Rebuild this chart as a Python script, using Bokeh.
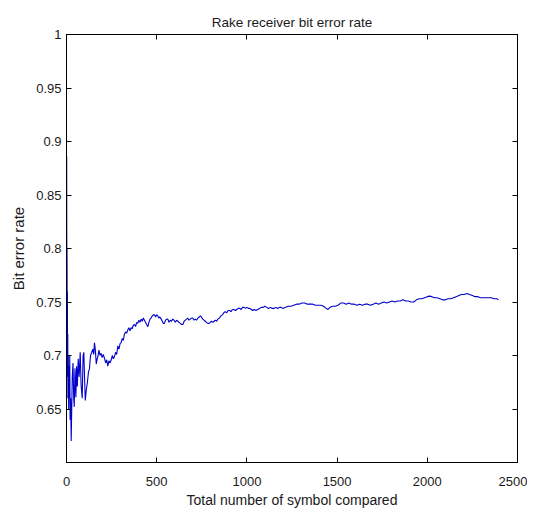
from bokeh.plotting import figure
from bokeh.models import Range1d, LinearAxis, FixedTicker
from bokeh.embed import file_html
from bokeh.resources import INLINE

# ---- data ----
symbols = [1, 2, 3, 4, 5, 6, 7, 8, 10, 12, 14, 16, 18, 20, 23, 26, 29, 32, 36, 40,
           43, 47, 52, 56, 60, 65, 70, 76, 81, 87, 92, 96, 100, 104, 110, 116, 122, 127, 133, 140,
           146, 151, 155, 160, 165, 170, 174, 180, 186, 192, 198, 204, 211, 217, 223, 229, 235, 241, 248, 254,
           260, 266, 272, 278, 285, 291, 297, 303, 309, 315, 321, 328, 334, 340, 346, 352, 358, 364, 370, 377,
           383, 389, 395, 401, 407, 414, 420, 426, 432, 438, 444, 451, 457, 463, 469, 475, 481, 488, 494, 500,
           506, 512, 518, 525, 531, 537, 543, 549, 556, 562, 568, 575, 582, 589, 596, 603, 610, 617, 624, 631,
           638, 645, 652, 659, 666, 672, 679, 686, 693, 700, 707, 714, 721, 728, 735, 742, 748, 755, 762, 769,
           776, 783, 790, 797, 804, 811, 818, 825, 832, 839, 848, 856, 864, 872, 880, 888, 896, 904, 912, 920,
           928, 936, 944, 952, 960, 968, 976, 984, 992, 1000, 1008, 1016, 1024, 1032, 1040, 1050, 1060, 1070, 1080, 1090,
           1100, 1110, 1120, 1130, 1140, 1150, 1160, 1170, 1180, 1190, 1200, 1215, 1230, 1245, 1260, 1275, 1290, 1305, 1320, 1335,
           1350, 1365, 1380, 1395, 1410, 1425, 1440, 1450, 1460, 1475, 1490, 1505, 1520, 1535, 1550, 1565, 1580, 1595, 1610, 1625,
           1640, 1655, 1670, 1685, 1700, 1715, 1730, 1745, 1760, 1775, 1790, 1805, 1820, 1835, 1850, 1865, 1880, 1895, 1910, 1925,
           1940, 1955, 1970, 1985, 2000, 2012, 2025, 2040, 2055, 2070, 2085, 2100, 2115, 2130, 2145, 2160, 2175, 2190, 2205, 2220,
           2235, 2250, 2265, 2280, 2295, 2310, 2325, 2340, 2355, 2370, 2385, 2395]

ber = [0.886, 0.76, 0.80, 0.70, 0.76, 0.68, 0.72, 0.66, 0.70, 0.65, 0.69, 0.66, 0.70, 0.64, 0.66, 0.62, 0.65, 0.68, 0.693, 0.66,
       0.652, 0.688, 0.661, 0.69, 0.671, 0.697, 0.68, 0.703, 0.672, 0.66, 0.70, 0.703, 0.68, 0.658, 0.668, 0.675, 0.685, 0.687, 0.70, 0.703,
       0.706, 0.701, 0.712, 0.705, 0.692, 0.697, 0.699, 0.705, 0.700, 0.702, 0.698, 0.701, 0.697, 0.693, 0.696, 0.690, 0.695, 0.693, 0.696, 0.700,
       0.697, 0.699, 0.703, 0.701, 0.709, 0.706, 0.711, 0.712, 0.716, 0.714, 0.720, 0.722, 0.721, 0.724, 0.726, 0.723, 0.726, 0.725, 0.728, 0.729,
       0.727, 0.731, 0.730, 0.733, 0.731, 0.734, 0.732, 0.735, 0.733, 0.731, 0.729, 0.727, 0.731, 0.734, 0.735, 0.737, 0.738, 0.738, 0.736, 0.738,
       0.737, 0.735, 0.736, 0.734, 0.732, 0.730, 0.730, 0.733, 0.734, 0.734, 0.731, 0.733, 0.732, 0.734, 0.733, 0.731, 0.733, 0.732, 0.731, 0.730,
       0.729, 0.729, 0.732, 0.733, 0.734, 0.735, 0.733, 0.734, 0.735, 0.735, 0.733, 0.734, 0.733, 0.735, 0.736, 0.737, 0.736, 0.734, 0.733, 0.732,
       0.731, 0.730, 0.730, 0.731, 0.732, 0.731, 0.732, 0.733, 0.732, 0.734, 0.735, 0.737, 0.738, 0.740, 0.741, 0.740, 0.742, 0.742, 0.741, 0.743,
       0.743, 0.742, 0.743, 0.744, 0.744, 0.743, 0.745, 0.745, 0.744, 0.745, 0.744, 0.744, 0.743, 0.742, 0.743, 0.742, 0.743, 0.744, 0.745, 0.745,
       0.746, 0.745, 0.744, 0.745, 0.744, 0.744, 0.745, 0.744, 0.745, 0.745, 0.744, 0.745, 0.746, 0.746, 0.747, 0.748, 0.748, 0.749, 0.749, 0.748,
       0.748, 0.748, 0.747, 0.747, 0.747, 0.746, 0.744, 0.743, 0.745, 0.746, 0.746, 0.747, 0.749, 0.749, 0.748, 0.749, 0.748, 0.748, 0.747, 0.748,
       0.747, 0.748, 0.748, 0.747, 0.748, 0.749, 0.748, 0.749, 0.750, 0.749, 0.750, 0.751, 0.750, 0.751, 0.751, 0.752, 0.751, 0.751, 0.750, 0.750,
       0.752, 0.753, 0.753, 0.754, 0.755, 0.7555, 0.755, 0.754, 0.754, 0.753, 0.752, 0.752, 0.753, 0.753, 0.754, 0.755, 0.756, 0.757, 0.757, 0.758,
       0.757, 0.756, 0.755, 0.755, 0.754, 0.754, 0.754, 0.754, 0.754, 0.753, 0.753, 0.752]

x_ticks = [0, 500, 1000, 1500, 2000, 2500]
y_ticks = [0.65, 0.7, 0.75, 0.8, 0.85, 0.9, 0.95, 1.0]
y_tick_labels = {0.65: "0.65", 0.7: "0.7", 0.75: "0.75", 0.8: "0.8",
                 0.85: "0.85", 0.9: "0.9", 0.95: "0.95", 1.0: "1"}

FONT = "Liberation Sans"
TXT = "#1a1a1a"

p = figure(frame_width=451, frame_height=428, output_backend="svg", toolbar_location=None,
           x_range=Range1d(0, 2500), y_range=Range1d(0.6, 1.0),
           title="Rake receiver bit error rate",
           min_border_left=66, min_border_right=10, min_border_top=34, min_border_bottom=44)

p.title.align = "center"
p.title.text_font = FONT
p.title.text_font_size = "13.5px"
p.title.text_font_style = "normal"
p.title.text_color = TXT

p.xgrid.visible = False
p.ygrid.visible = False
p.outline_line_color = "black"
p.background_fill_color = "white"
p.border_fill_color = "white"

p.line(symbols, ber, line_color="#0000CC", line_width=1.1)

xa = p.xaxis[0]
xa.ticker = FixedTicker(ticks=x_ticks)
xa.axis_label = "Total number of symbol compared"
ya = p.yaxis[0]
ya.ticker = FixedTicker(ticks=y_ticks)
ya.major_label_overrides = y_tick_labels
ya.axis_label = "Bit error rate"

for ax in (xa, ya):
    ax.major_tick_in = 5
    ax.major_tick_out = 0
    ax.minor_tick_line_color = None
    ax.axis_line_color = "black"
    ax.major_tick_line_color = "black"
    ax.major_label_text_font = FONT
    ax.major_label_text_font_size = "13px"
    ax.major_label_text_color = TXT
    ax.axis_label_text_font = FONT
    ax.axis_label_text_font_style = "normal"
    ax.axis_label_text_color = TXT

xa.axis_label_text_font_size = "14px"
ya.axis_label_text_font_size = "15px"
xa.major_label_standoff = 14
ya.major_label_standoff = 5
xa.axis_label_standoff = 3
ya.axis_label_standoff = 6

top = LinearAxis(ticker=FixedTicker(ticks=x_ticks), major_tick_in=5, major_tick_out=0,
                 minor_tick_line_color=None, major_label_text_font_size="1px",
                 major_label_text_color=None, major_label_standoff=0, axis_line_color="black")
right = LinearAxis(ticker=FixedTicker(ticks=y_ticks), major_tick_in=5, major_tick_out=0,
                   minor_tick_line_color=None, major_label_text_font_size="1px",
                   major_label_text_color=None, major_label_standoff=0, axis_line_color="black")
p.add_layout(top, "above")
p.add_layout(right, "right")

open("out.html", "w").write(file_html(p, INLINE))
